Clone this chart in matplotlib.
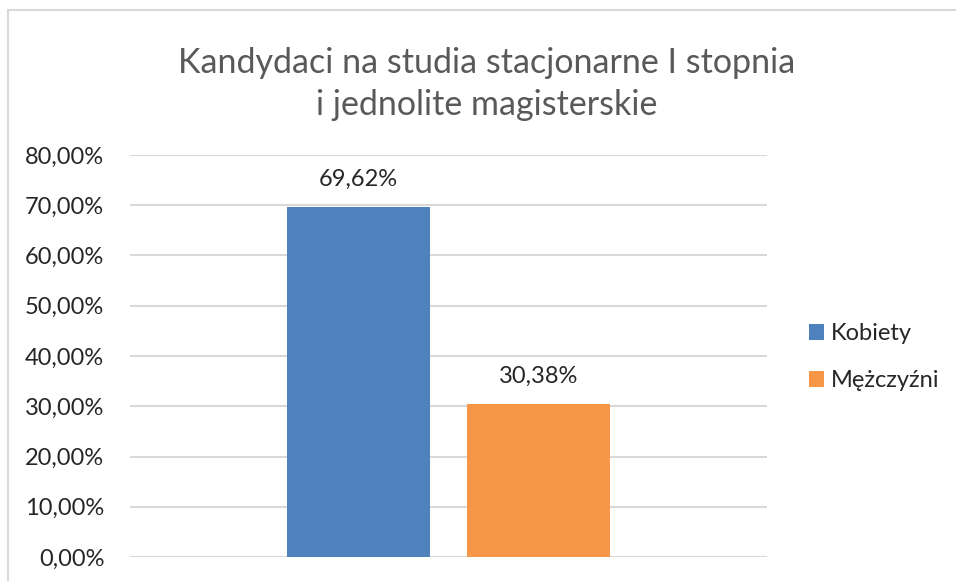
import matplotlib
matplotlib.use("Agg")
import matplotlib.pyplot as plt
from matplotlib.patches import Rectangle

series = ["Kobiety", "Mężczyźni"]
values = [69.62, 30.38]
colors = ["#4F81BD", "#F79646"]
yticks = [0, 10, 20, 30, 40, 50, 60, 70, 80]
title = "Kandydaci na studia stacjonarne I stopnia\ni jednolite magisterskie"

plt.rcParams['font.family'] = ['Lato', 'DejaVu Sans']

W, H = 956, 581
fig = plt.figure(figsize=(W / 100, H / 100), dpi=100)
fig.patch.set_facecolor("white")

# chart border (only top/left visible in reference)
fig.add_artist(Rectangle((8 / W, -0.05), 1.2, (H - 10) / H + 0.05, transform=fig.transFigure,
                         fill=False, edgecolor="#d9d9d9", linewidth=1.5))

ax = fig.add_axes([130 / W, 24 / H, 637 / W, 402 / H])
ax.set_xlim(0, 1)
ax.set_ylim(0, 80)

fs = 17
bw = 0.2245
offs = [-0.142, 0.142]
for name, v, c, o in zip(series, values, colors, offs):
    ax.bar(0.5 + o, v, width=bw, color=c, label=name, zorder=3)
    ax.text(0.5 + o, v + 5.6, f"{v:.2f}%".replace(".", ","), ha="center", va="center",
            fontsize=fs, color="#262626")

ax.set_yticks(yticks)
ax.set_yticklabels([f"{t:.2f}%".replace(".", ",") for t in yticks], fontsize=fs, color="#262626")
ax.tick_params(axis="y", length=0, pad=18.5)
ax.set_xticks([])
for s in ax.spines.values():
    s.set_visible(False)
ax.yaxis.grid(True, color="#d9d9d9", linewidth=1.5, zorder=0)
ax.set_axisbelow(True)

fig.text(487 / W, 1 - 84 / H, title, ha="center", va="center", fontsize=24.5,
         color="#595959", linespacing=1.42)

leg = fig.legend(loc="upper left", bbox_to_anchor=(809 / W, 1 - 323 / H), frameon=False,
                 fontsize=fs, handlelength=0.64, handleheight=0.64, handletextpad=0.3,
                 labelspacing=1.12, borderaxespad=0, borderpad=0)
for t in leg.get_texts():
    t.set_color("#262626")

fig.savefig("out.png", dpi=100)
